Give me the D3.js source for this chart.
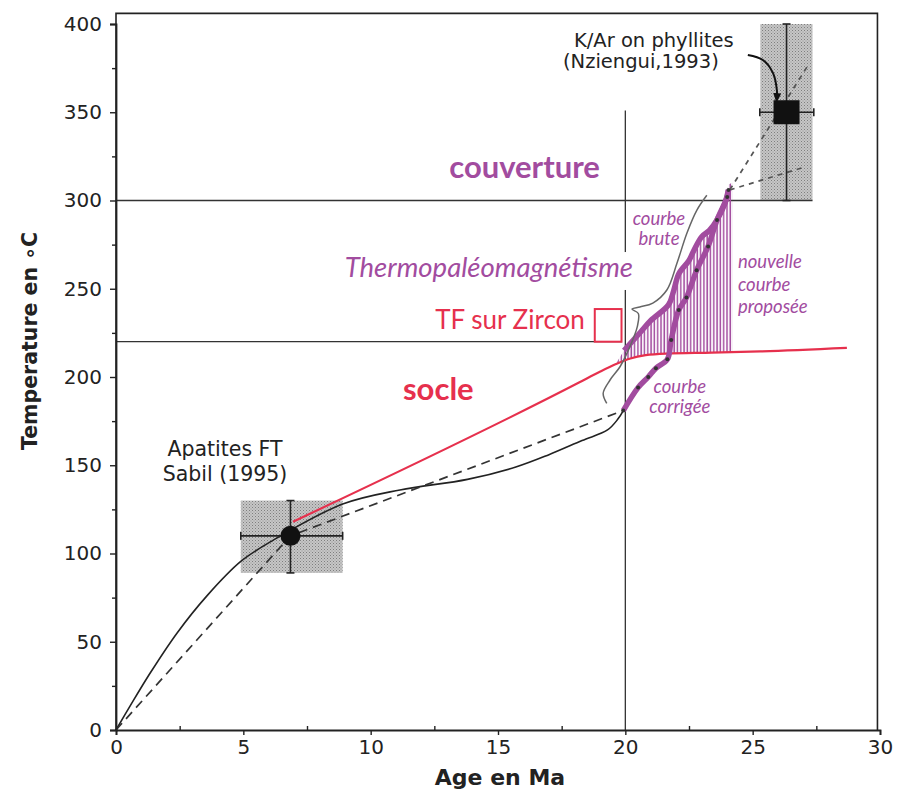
<!DOCTYPE html>
<html>
<head>
<meta charset="utf-8">
<script src="https://cdn.jsdelivr.net/npm/d3@7"></script>
<style>
  body { margin: 0; background: #fff; }
</style>
</head>
<body>
<div id="chart"></div>
<script>
// ---- data (age in Ma, temperature in °C) ----
var xTicks = [0, 5, 10, 15, 20, 25, 30];
var xMinor = [2.5, 7.5, 12.5, 17.5, 22.5, 27.5];
var yTicks = [0, 50, 100, 150, 200, 250, 300, 350, 400];
var yMinor = [25, 75, 125, 175, 225, 275, 325, 375];

var solidCurve = [[0,0],[0.55,13.5],[1.33,32],[2.4,55],[3.57,76],[4.9,95.5],[6.18,107.6],
  [8.9,128],[11.15,136],[13.8,142],[15.7,149],[17.0,156],[18.3,164],[19.3,170],[19.7,176],[19.92,181]];
var dashedCurve = [[0,0],[6.85,110],[19.92,181]];
var dashedToKAr = [[[24.1,306],[27.13,375.6]], [[24.1,306],[27.05,319]]];

var socle = [[6.95,118],[18.2,197],[19.0,203],[19.66,207.5],[20.2,210.5],[20.8,212.4],[21.6,213.3],
  [23.4,213.8],[25.3,214.5],[28.7,216.5]];
var courbeBrute = [[19.95,215],[20.6,225.5],[21.0,232],[21.7,241],[21.9,249],[22.1,258.5],[22.5,266],
  [22.7,272],[23.0,279.5],[23.3,283],[23.6,289],[23.9,298],[24.05,306]];
var hatchTop = [[19.6,207],[19.95,215],[20.6,225.5],[21.0,232],[21.7,241],[21.9,249],[22.1,258.5],[22.5,266],
  [22.7,272],[23.0,279.5],[23.3,283],[23.6,289],[23.9,298],[24.05,309],[24.2,310]];
var hatchBottom = [[24.2,214],[23.4,213.8],[21.6,213.3],[20.8,212.4],[20.2,210.5],[19.6,207]];
var courbeCorrigee = [[19.92,181],[20.5,194],[20.9,200],[21.2,205],[21.65,210],[21.8,221],[22.1,238],
  [22.4,245],[22.8,260.5],[23.25,274],[23.6,289],[24.0,302],[24.05,306]];
var brace = [[23.2,303],[22.81,294.6],[22.42,281.6],[22.03,264.6],[21.63,249.3],[21.08,241.9],[20.57,239.7],
  [20.26,238.5],[20.51,236],[20.47,228.5],[20.18,217.2],[19.79,205.8],[19.4,198.3],[19.13,190.8],[19.27,185.1]];
var kArArrow = [[24.81,382.4],[25.4,379.6],[25.8,372.2],[25.95,362.6],[25.95,358]];

// samples: box range, error bars, point
var apatite = {x0: 4.9, x1: 8.9, y0: 89, y1: 130, ex0: 4.9, ex1: 8.9, ey0: 89, ey1: 130, cx: 6.85, cy: 110};
var kAr = {x0: 25.3, x1: 27.35, y0: 300, y1: 400, ex0: 25.28, ex1: 27.4, ey0: 300, ey1: 400, cx: 26.33, cy: 350};

// reference lines
var hLines = [[0, 27.35, 300], [0, 19.87, 220]];
var vLines = [[20, 0, 351]];
var zirconBox = [18.8, 19.85, 220, 238.5];

var purple = "#a24c9f", red = "#e6304d";

// ---- layout ----
var width = 898, height = 789;
var x = d3.scaleLinear().domain([0, 30]).range([116, 880]);
var y = d3.scaleLinear().domain([0, 400]).range([730, 24]);

var svg = d3.select("#chart").append("svg")
  .attr("width", width)
  .attr("height", height)
  .style("font-family", "'DejaVu Sans', sans-serif");

svg.append("rect").attr("width", width).attr("height", height).attr("fill", "#fff");

var defs = svg.append("defs");
var stip = defs.append("pattern").attr("id", "stip")
  .attr("width", 3).attr("height", 3).attr("patternUnits", "userSpaceOnUse");
stip.append("rect").attr("width", 3).attr("height", 3).attr("fill", "#c6c6c6");
stip.append("rect").attr("width", 1).attr("height", 1).attr("fill", "#7e7e7e");
stip.append("rect").attr("x", 1.5).attr("y", 1.5).attr("width", 1).attr("height", 1).attr("fill", "#959595");

var hatch = defs.append("pattern").attr("id", "hatch")
  .attr("width", 3.3).attr("height", 10).attr("patternUnits", "userSpaceOnUse");
hatch.append("line").attr("x1", 1).attr("x2", 1).attr("y1", 0).attr("y2", 10)
  .attr("stroke", purple).attr("stroke-width", 1.5);

defs.append("marker").attr("id", "arrow")
  .attr("viewBox", "0 0 10 10").attr("refX", 5).attr("refY", 5)
  .attr("markerWidth", 5).attr("markerHeight", 5).attr("orient", "auto")
  .append("path").attr("d", "M0,1 L10,5 L0,9 Z").attr("fill", "#111");

var line = d3.line().x(function(d){ return x(d[0]); }).y(function(d){ return y(d[1]); });
var smooth = d3.line().x(function(d){ return x(d[0]); }).y(function(d){ return y(d[1]); })
  .curve(d3.curveMonotoneX);
var spline = d3.line().x(function(d){ return x(d[0]); }).y(function(d){ return y(d[1]); })
  .curve(d3.curveCatmullRom);

// grey sample boxes
[apatite, kAr].forEach(function(b){
  svg.append("rect")
    .attr("x", x(b.x0)).attr("y", y(b.y1))
    .attr("width", x(b.x1) - x(b.x0)).attr("height", y(b.y0) - y(b.y1))
    .attr("fill", "url(#stip)");
});

// reference lines
hLines.forEach(function(l){
  svg.append("line").attr("x1", x(l[0])).attr("x2", x(l[1])).attr("y1", y(l[2])).attr("y2", y(l[2]))
    .attr("stroke", "#333").attr("stroke-width", 1.3);
});
vLines.forEach(function(l){
  svg.append("line").attr("x1", x(l[0])).attr("x2", x(l[0])).attr("y1", y(l[1])).attr("y2", y(l[2]))
    .attr("stroke", "#333").attr("stroke-width", 1.3);
});

// hatched area between raw curve and socle
svg.append("path")
  .attr("d", line(hatchTop.concat(hatchBottom)) + "Z")
  .attr("fill", "url(#hatch)");

// black curves
svg.append("path").attr("d", spline(solidCurve))
  .attr("fill", "none").attr("stroke", "#222").attr("stroke-width", 1.6);
svg.append("path").attr("d", line(dashedCurve))
  .attr("fill", "none").attr("stroke", "#333").attr("stroke-width", 1.7)
  .attr("stroke-dasharray", "9,6");
dashedToKAr.forEach(function(seg){
  svg.append("path").attr("d", line(seg))
    .attr("fill", "none").attr("stroke", "#555").attr("stroke-width", 1.7)
    .attr("stroke-dasharray", "5,5");
});

// red socle
svg.append("path").attr("d", smooth(socle))
  .attr("fill", "none").attr("stroke", red).attr("stroke-width", 2.2);

// error bars and points
[apatite, kAr].forEach(function(b){
  var g = svg.append("g").attr("stroke", "#222").attr("stroke-width", 1.6);
  g.append("line").attr("x1", x(b.ex0)).attr("x2", x(b.ex1)).attr("y1", y(b.cy)).attr("y2", y(b.cy));
  g.append("line").attr("x1", x(b.cx)).attr("x2", x(b.cx)).attr("y1", y(b.ey0)).attr("y2", y(b.ey1));
  [b.ex0, b.ex1].forEach(function(v){
    g.append("line").attr("x1", x(v)).attr("x2", x(v)).attr("y1", y(b.cy) - 4).attr("y2", y(b.cy) + 4);
  });
  [b.ey0, b.ey1].forEach(function(v){
    g.append("line").attr("x1", x(b.cx) - 4).attr("x2", x(b.cx) + 4).attr("y1", y(v)).attr("y2", y(v));
  });
});
svg.append("circle").attr("cx", x(apatite.cx)).attr("cy", y(apatite.cy)).attr("r", 10).attr("fill", "#111");
svg.append("rect").attr("x", x(kAr.cx) - 13).attr("y", y(kAr.cy) - 12)
  .attr("width", 26).attr("height", 24).attr("fill", "#111");

// purple curves
svg.append("path").attr("d", spline(courbeBrute))
  .attr("fill", "none").attr("stroke", purple).attr("stroke-width", 5.5).attr("stroke-linejoin", "round");
svg.append("path").attr("d", spline(courbeCorrigee))
  .attr("fill", "none").attr("stroke", purple).attr("stroke-width", 5.5).attr("stroke-linejoin", "round");
svg.selectAll(".cdot").data(courbeCorrigee).enter().append("circle")
  .attr("class", "cdot")
  .attr("cx", function(d){ return x(d[0]); }).attr("cy", function(d){ return y(d[1]); })
  .attr("r", 2).attr("fill", "#333");

// brace
svg.append("path").attr("d", spline(brace))
  .attr("fill", "none").attr("stroke", "#666").attr("stroke-width", 1.5);

// zircon square
svg.append("rect")
  .attr("x", x(zirconBox[0])).attr("y", y(zirconBox[3]))
  .attr("width", x(zirconBox[1]) - x(zirconBox[0])).attr("height", y(zirconBox[2]) - y(zirconBox[3]))
  .attr("fill", "none").attr("stroke", red).attr("stroke-width", 2);

// white band behind the label
svg.append("rect").attr("x", x(8.4)).attr("y", y(270.8))
  .attr("width", x(20.89) - x(8.4)).attr("height", y(249.3) - y(270.8)).attr("fill", "#fff");

// arrow
svg.append("path").attr("d", spline(kArArrow))
  .attr("fill", "none").attr("stroke", "#111").attr("stroke-width", 2)
  .attr("marker-end", "url(#arrow)");

// labels
var labels = [
  {t: "K/Ar on phyllites", x: 21.12, y: 387, a: "middle", f: "'DejaVu Sans'", s: 19.5, c: "#222"},
  {t: "(Nziengui,1993)", x: 20.61, y: 375, a: "middle", f: "'DejaVu Sans'", s: 19.5, c: "#222"},
  {t: "Apatites FT", x: 4.28, y: 155.2, a: "middle", f: "'DejaVu Sans'", s: 20.5, c: "#222"},
  {t: "Sabil (1995)", x: 4.28, y: 141.1, a: "middle", f: "'DejaVu Sans'", s: 20.5, c: "#222"},
  {t: "couverture", x: 19.0, y: 312.7, a: "end", f: "Lato", s: 31, c: purple, w: "bold"},
  {t: "Thermopaléomagnétisme", x: 20.3, y: 256.7, a: "end", f: "Lato", s: 27.5, c: purple, st: "italic"},
  {t: "TF sur Zircon", x: 18.41, y: 227.2, a: "end", f: "Lato", s: 26, c: red},
  {t: "socle", x: 11.27, y: 187, a: "start", f: "Lato", s: 31, c: red, w: "bold"},
  {t: "courbe", x: 21.32, y: 286.1, a: "middle", f: "Lato", s: 18.5, c: purple, st: "italic"},
  {t: "brute", x: 21.32, y: 274.8, a: "middle", f: "Lato", s: 18.5, c: purple, st: "italic"},
  {t: "nouvelle", x: 24.42, y: 261.8, a: "start", f: "Lato", s: 18.5, c: purple, st: "italic"},
  {t: "courbe", x: 24.42, y: 248.7, a: "start", f: "Lato", s: 18.5, c: purple, st: "italic"},
  {t: "proposée", x: 24.42, y: 236.3, a: "start", f: "Lato", s: 18.5, c: purple, st: "italic"},
  {t: "courbe", x: 22.14, y: 190.9, a: "middle", f: "Lato", s: 18.5, c: purple, st: "italic"},
  {t: "corrigée", x: 22.14, y: 179.6, a: "middle", f: "Lato", s: 18.5, c: purple, st: "italic"}
];
svg.selectAll(".lbl").data(labels).enter().append("text")
  .attr("class", "lbl")
  .attr("x", function(d){ return x(d.x); })
  .attr("y", function(d){ return y(d.y); })
  .attr("text-anchor", function(d){ return d.a; })
  .style("font-family", function(d){ return d.f + ", sans-serif"; })
  .style("font-size", function(d){ return d.s + "px"; })
  .style("font-weight", function(d){ return d.w || "normal"; })
  .style("font-style", function(d){ return d.st || "normal"; })
  .attr("fill", function(d){ return d.c; })
  .text(function(d){ return d.t; });

// frame
var frameTop = 406;
svg.append("path")
  .attr("d", "M" + x(0) + "," + y(0) + "V" + y(frameTop) + "H" + x(29.9) + "V" + y(0))
  .attr("fill", "none").attr("stroke", "#222").attr("stroke-width", 1.6);

// axes
svg.append("g").attr("transform", "translate(0," + y(0) + ")")
  .call(d3.axisBottom(x).tickValues(xTicks).tickSize(5).tickPadding(5).tickFormat(d3.format("d")));
svg.append("g").attr("transform", "translate(0," + y(0) + ")")
  .call(d3.axisTop(x).tickValues(xMinor).tickSize(4).tickFormat(""))
  .select(".domain").remove();
svg.append("g").attr("transform", "translate(" + x(0) + ",0)")
  .call(d3.axisLeft(y).tickValues(yTicks).tickSize(6).tickPadding(8).tickFormat(d3.format("d")));
svg.append("g").attr("transform", "translate(" + x(0) + ",0)")
  .call(d3.axisLeft(y).tickValues(yMinor).tickSize(4).tickFormat(""))
  .select(".domain").remove();

svg.selectAll(".domain").attr("stroke", "#222").attr("stroke-width", 1.8);
svg.selectAll(".tick line").attr("stroke", "#222").attr("stroke-width", 1.4);
svg.selectAll(".tick text")
  .style("font-family", "'DejaVu Sans', sans-serif")
  .style("font-size", "20px")
  .attr("fill", "#222");

svg.append("text")
  .attr("x", (x(0) + x(30)) / 2 + 2).attr("y", 785)
  .attr("text-anchor", "middle")
  .style("font-size", "22px").style("font-weight", "bold").attr("fill", "#222")
  .text("Age en Ma");

svg.append("text")
  .attr("transform", "translate(37," + 341 + ") rotate(-90)")
  .attr("text-anchor", "middle")
  .style("font-size", "20.5px").style("font-weight", "bold").attr("fill", "#222")
  .text("Temperature en \u2218C");
</script>
</body>
</html>
